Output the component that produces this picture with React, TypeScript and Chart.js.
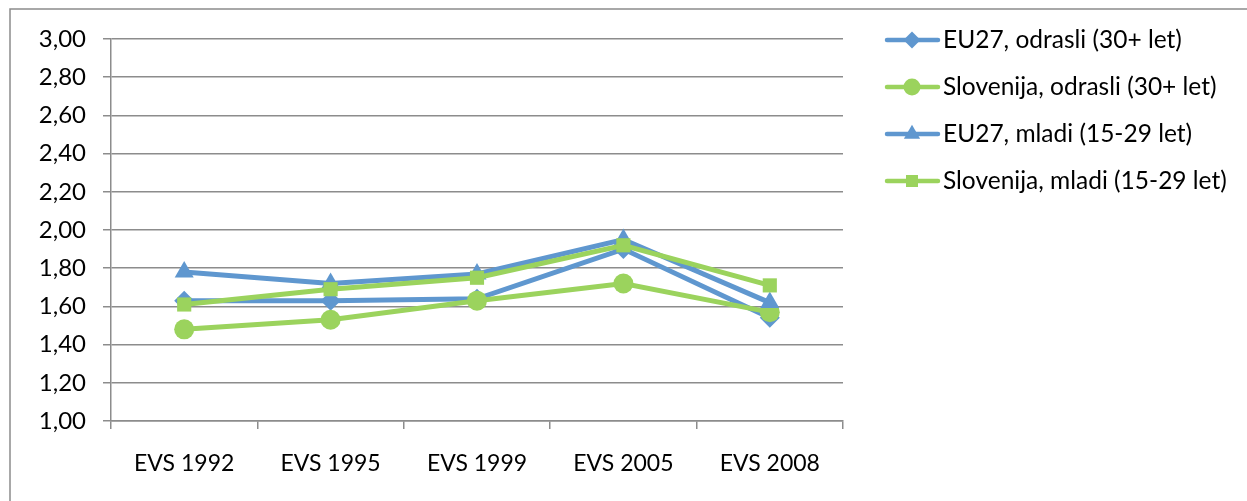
import React, { useEffect, useRef } from "react";
import { Chart, registerables } from "chart.js";

Chart.register(...registerables);

const categories = ["EVS 1992", "EVS 1995", "EVS 1999", "EVS 2005", "EVS 2008"];
const seriesNames = [
  "EU27, odrasli (30+ let)",
  "Slovenija, odrasli (30+ let)",
  "EU27, mladi (15-29 let)",
  "Slovenija, mladi (15-29 let)",
];
const eu27Odrasli = [1.63, 1.63, 1.64, 1.9, 1.54];
const sloOdrasli = [1.48, 1.53, 1.63, 1.72, 1.57];
const eu27Mladi = [1.78, 1.72, 1.77, 1.95, 1.62];
const sloMladi = [1.61, 1.69, 1.75, 1.92, 1.71];
const yMin = 1.0;
const yMax = 3.0;
const yStep = 0.2;

const BLUE = "#5F97CF";
const GREEN = "#9BD35D";
const GRID = "#8C8C8C";
const FONT = "Lato, 'Open Sans', sans-serif";

const styles = ["rectRot", "circle", "triangle", "rect"];
const radii = [10, 10, 11, 10];
const colors = [BLUE, GREEN, BLUE, GREEN];

function drawMarker(ctx: CanvasRenderingContext2D, style: string, x: number, y: number, r: number) {
  ctx.beginPath();
  if (style === "circle") {
    ctx.arc(x, y, r, 0, Math.PI * 2);
  } else if (style === "rectRot") {
    ctx.moveTo(x, y - r);
    ctx.lineTo(x + r, y);
    ctx.lineTo(x, y + r);
    ctx.lineTo(x - r, y);
    ctx.closePath();
  } else if (style === "triangle") {
    const a = -Math.PI / 2;
    for (let i = 0; i < 3; i++) {
      const ang = a + (i * 2 * Math.PI) / 3;
      const px = x + Math.cos(ang) * r;
      const py = y + Math.sin(ang) * r;
      if (i === 0) ctx.moveTo(px, py);
      else ctx.lineTo(px, py);
    }
    ctx.closePath();
  } else {
    const s = Math.SQRT1_2 * r;
    ctx.rect(x - s, y - s, 2 * s, 2 * s);
  }
  ctx.fill();
}

const framePlugin = {
  id: "frameAndLegend",
  beforeDraw(chart: any) {
    const ctx = chart.ctx as CanvasRenderingContext2D;
    ctx.save();
    ctx.strokeStyle = GRID;
    ctx.lineWidth = 1.5;
    ctx.beginPath();
    ctx.moveTo(10, 501);
    ctx.lineTo(10, 9);
    ctx.lineTo(1247, 9);
    ctx.stroke();
    ctx.restore();
  },
  afterDraw(chart: any) {
    const ctx = chart.ctx as CanvasRenderingContext2D;
    ctx.save();
    const ys = [40, 87, 134, 181];
    for (let i = 0; i < seriesNames.length; i++) {
      const y = ys[i];
      ctx.strokeStyle = colors[i];
      ctx.fillStyle = colors[i];
      ctx.lineWidth = 4.5;
      ctx.lineCap = "round";
      ctx.beginPath();
      ctx.moveTo(887, y);
      ctx.lineTo(938, y);
      ctx.stroke();
      drawMarker(ctx, styles[i], 912, y, radii[i] * 0.85);
      ctx.fillStyle = "#000000";
      ctx.font = `24.5px ${FONT}`;
      ctx.textAlign = "left";
      ctx.textBaseline = "middle";
      ctx.fillText(seriesNames[i], 943, y);
    }
    ctx.restore();
  },
};

export default function App() {
  const ref = useRef<HTMLCanvasElement | null>(null);
  useEffect(() => {
    document.body.style.margin = "0";
    const canvas = ref.current;
    if (!canvas) return;
    const data = [eu27Odrasli, sloOdrasli, eu27Mladi, sloMladi];
    const chart = new Chart(canvas, {
      type: "line",
      data: {
        labels: categories,
        datasets: data.map((d, i) => ({
          label: seriesNames[i],
          data: d,
          borderColor: colors[i],
          backgroundColor: colors[i],
          pointBackgroundColor: colors[i],
          pointBorderColor: colors[i],
          pointBorderWidth: 0,
          pointStyle: styles[i] as any,
          pointRadius: radii[i],
          borderWidth: 5,
          tension: 0,
          fill: false,
          order: 4 - i,
        })),
      },
      options: {
        animation: false,
        responsive: false,
        devicePixelRatio: 1,
        layout: { padding: { top: 39, right: 404, bottom: 0, left: 0 } },
        plugins: { legend: { display: false }, tooltip: { enabled: false }, title: { display: false } },
        scales: {
          x: {
            type: "category",
            offset: true,
            grid: {
              offset: true,
              drawOnChartArea: false,
              drawTicks: true,
              tickLength: 8,
              color: GRID,
              lineWidth: 1.5,
            },
            border: { display: true, color: GRID, width: 1.5 },
            ticks: { color: "#000000", font: { family: FONT, size: 23 }, padding: 21, maxRotation: 0 },
            afterFit(scale: any) {
              scale.height = 80;
              scale.paddingLeft = 0;
              scale.paddingRight = 0;
            },
          },
          y: {
            min: yMin,
            max: yMax,
            grid: { color: GRID, lineWidth: 1.5, tickLength: 8, drawTicks: true },
            border: { display: true, color: GRID, width: 1.5 },
            ticks: {
              stepSize: yStep,
              color: "#000000",
              font: { family: FONT, size: 24 },
              padding: 17,
              callback: (v: any) => Number(v).toFixed(2).replace(".", ","),
            },
            afterFit(scale: any) {
              scale.width = 111;
              scale.paddingTop = 0;
              scale.paddingBottom = 0;
            },
          },
        },
      },
      plugins: [framePlugin],
    });
    return () => chart.destroy();
  }, []);
  return (
    <div style={{ width: 1247, height: 501, background: "#ffffff" }}>
      <canvas ref={ref} width={1247} height={501} style={{ display: "block" }} />
    </div>
  );
}
